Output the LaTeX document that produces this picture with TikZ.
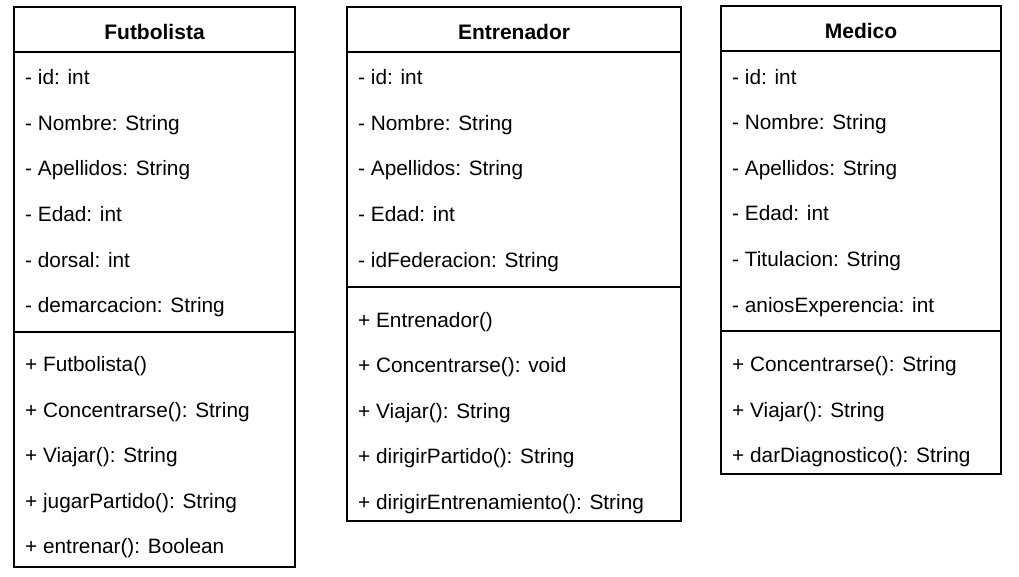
\documentclass[tikz,border=0pt]{standalone}
\usepackage{fontspec}
\setmainfont{Liberation Sans}
\usetikzlibrary{positioning,calc}
\begin{document}
\begin{tikzpicture}[x=1pt,y=-1pt]
\tikzset{classbox/.style={draw=black,line width=1.2pt,anchor=north west,inner sep=0pt,outer sep=0pt},
  classname/.style={anchor=base,inner sep=0pt,font=\fontsize{21}{25}\selectfont\bfseries},
  member/.style={anchor=base west,inner sep=0pt,font=\fontsize{20.8}{25}\selectfont},
  sep/.style={line width=1.2pt}}
\useasboundingbox (0,0) rectangle (1019,577);

% Futbolista
\node[classbox,minimum width=281pt,minimum height=560pt] (fut) at (14,7) {};
\node[classbox,minimum width=281pt,minimum height=45pt] (futhead) at (14,7) {};
\node[classname] (futname) at (154.5,39.5) {Futbolista};
\coordinate (futsep) at (14,332);
\draw[sep] (futsep) -- (futsep -| fut.east);
\foreach \t [count=\i] in {- id: int,- Nombre: String,- Apellidos: String,- Edad: int,- dorsal: int,- demarcacion: String}
  \node[member] (futa\i) at (25,{85+45.5*(\i-1)}) {\t};
\foreach \t [count=\i] in {+ Futbolista(),+ Concentrarse(): String,+ Viajar(): String,+ jugarPartido(): String,+ entrenar(): Boolean}
  \node[member] (futm\i) at (25,{371.5+45.5*(\i-1)}) {\t};

% Entrenador
\node[classbox,minimum width=334pt,minimum height=514pt] (ent) at (347,7) {};
\node[classbox,minimum width=334pt,minimum height=45pt] (enthead) at (347,7) {};
\node[classname] (entname) at (514,39.5) {Entrenador};
\coordinate (entsep) at (347,287);
\draw[sep] (entsep) -- (entsep -| ent.east);
\foreach \t [count=\i] in {- id: int,- Nombre: String,- Apellidos: String,- Edad: int,- idFederacion: String}
  \node[member] (enta\i) at (358,{85+45.5*(\i-1)}) {\t};
\foreach \t [count=\i] in {+ Entrenador(),+ Concentrarse(): void,+ Viajar(): String,+ dirigirPartido(): String,+ dirigirEntrenamiento(): String}
  \node[member] (entm\i) at (358,{327+45.5*(\i-1)}) {\t};

% Medico
\node[classbox,minimum width=280pt,minimum height=468pt] (med) at (721,6) {};
\node[classbox,minimum width=280pt,minimum height=45pt] (medhead) at (721,6) {};
\node[classname] (medname) at (861,38.5) {Medico};
\coordinate (medsep) at (721,331);
\draw[sep] (medsep) -- (medsep -| med.east);
\foreach \t [count=\i] in {- id: int,- Nombre: String,- Apellidos: String,- Edad: int,- Titulacion: String,- aniosExperencia: int}
  \node[member] (meda\i) at (732,{84.5+45.5*(\i-1)}) {\t};
\foreach \t [count=\i] in {+ Concentrarse(): String,+ Viajar(): String,+ darDiagnostico(): String}
  \node[member] (medm\i) at (732,{371.5+45.5*(\i-1)}) {\t};
\end{tikzpicture}
\end{document}
